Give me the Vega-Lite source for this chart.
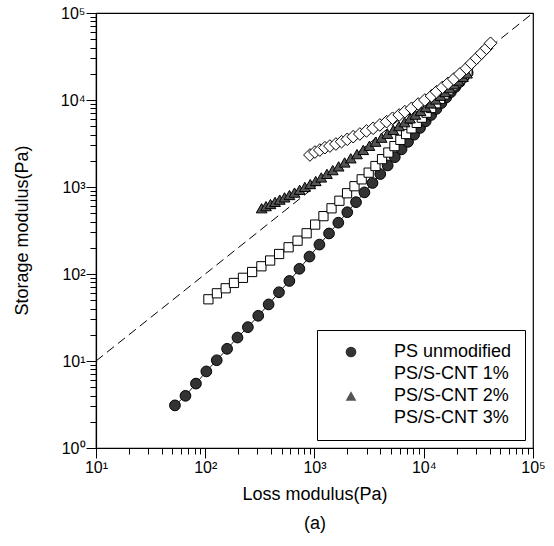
{
  "$schema": "https://vega.github.io/schema/vega-lite/v6.json",
  "width": 437,
  "height": 435,
  "autosize": "none",
  "padding": {"left": 96, "top": 13, "right": 21, "bottom": 98},
  "background": "white",
  "config": {
    "view": {"stroke": "black", "strokeWidth": 1.2},
    "axis": {
      "grid": false,
      "domainColor": "black",
      "domainWidth": 1.2,
      "tickColor": "black",
      "tickWidth": 1,
      "labelColor": "black",
      "titleColor": "black",
      "labelFont": "Liberation Sans",
      "titleFont": "Liberation Sans",
      "titleFontWeight": "normal",
      "labelFontSize": 16,
      "titleFontSize": 18,
      "labelOverlap": false,
      "labelFlush": false
    },
    "legend": {
      "labelFont": "Liberation Sans",
      "title": null,
      "orient": "bottom-right",
      "offset": 8,
      "strokeColor": "black",
      "fillColor": "white",
      "padding": 13,
      "labelFontSize": 18,
      "labelColor": "black",
      "labelOffset": 34,
      "symbolOffset": 12,
      "rowPadding": 4,
      "symbolSize": 115,
      "symbolOpacity": 1,
      "symbolStrokeWidth": 1,
      "symbolStrokeColor": "black"
    }
  },
  "datasets": {
    "series": [
      {"s": "PS unmodified", "x": 52.8, "y": 3.09},
      {"s": "PS unmodified", "x": 65.9, "y": 3.98},
      {"s": "PS unmodified", "x": 82.2, "y": 5.5},
      {"s": "PS unmodified", "x": 102.3, "y": 7.59},
      {"s": "PS unmodified", "x": 127.4, "y": 10.2},
      {"s": "PS unmodified", "x": 158.5, "y": 13.8},
      {"s": "PS unmodified", "x": 197.2, "y": 18.6},
      {"s": "PS unmodified", "x": 245.5, "y": 24.5},
      {"s": "PS unmodified", "x": 305.5, "y": 33.1},
      {"s": "PS unmodified", "x": 380.2, "y": 44.7},
      {"s": "PS unmodified", "x": 473.2, "y": 61.7},
      {"s": "PS unmodified", "x": 588.8, "y": 83.2},
      {"s": "PS unmodified", "x": 727.8, "y": 114.8},
      {"s": "PS unmodified", "x": 899.5, "y": 158.5},
      {"s": "PS unmodified", "x": 1109, "y": 217.8},
      {"s": "PS unmodified", "x": 1358, "y": 292.4},
      {"s": "PS unmodified", "x": 1652, "y": 389},
      {"s": "PS unmodified", "x": 1995, "y": 512.9},
      {"s": "PS unmodified", "x": 2399, "y": 669.9},
      {"s": "PS unmodified", "x": 2864, "y": 867},
      {"s": "PS unmodified", "x": 3396, "y": 1112},
      {"s": "PS unmodified", "x": 3999, "y": 1409},
      {"s": "PS unmodified", "x": 4677, "y": 1770},
      {"s": "PS unmodified", "x": 5433, "y": 2203},
      {"s": "PS unmodified", "x": 6266, "y": 2710},
      {"s": "PS unmodified", "x": 7178, "y": 3304},
      {"s": "PS unmodified", "x": 8166, "y": 3990},
      {"s": "PS unmodified", "x": 9247, "y": 4775},
      {"s": "PS unmodified", "x": 10423, "y": 5689},
      {"s": "PS unmodified", "x": 11695, "y": 6730},
      {"s": "PS unmodified", "x": 13062, "y": 7907},
      {"s": "PS unmodified", "x": 14521, "y": 9226},
      {"s": "PS unmodified", "x": 16069, "y": 10691},
      {"s": "PS unmodified", "x": 17701, "y": 12303},
      {"s": "PS unmodified", "x": 19454, "y": 14125},
      {"s": "PS unmodified", "x": 21281, "y": 16069},
      {"s": "PS unmodified", "x": 23227, "y": 18281},
      {"s": "PS unmodified", "x": 25235, "y": 20606},
      {"s": "PS/S-CNT 1%", "x": 106.9, "y": 51.2},
      {"s": "PS/S-CNT 1%", "x": 127.9, "y": 60},
      {"s": "PS/S-CNT 1%", "x": 153.8, "y": 68.5},
      {"s": "PS/S-CNT 1%", "x": 183.2, "y": 78.9},
      {"s": "PS/S-CNT 1%", "x": 221.3, "y": 90.4},
      {"s": "PS/S-CNT 1%", "x": 268.5, "y": 105.4},
      {"s": "PS/S-CNT 1%", "x": 326.6, "y": 122.7},
      {"s": "PS/S-CNT 1%", "x": 392.6, "y": 142.9},
      {"s": "PS/S-CNT 1%", "x": 474.2, "y": 169.8},
      {"s": "PS/S-CNT 1%", "x": 579.4, "y": 202.8},
      {"s": "PS/S-CNT 1%", "x": 699.8, "y": 241.5},
      {"s": "PS/S-CNT 1%", "x": 847.2, "y": 293.8},
      {"s": "PS/S-CNT 1%", "x": 1014, "y": 369.8},
      {"s": "PS/S-CNT 1%", "x": 1208, "y": 462.4},
      {"s": "PS/S-CNT 1%", "x": 1432, "y": 568.9},
      {"s": "PS/S-CNT 1%", "x": 1690, "y": 695},
      {"s": "PS/S-CNT 1%", "x": 1986, "y": 847.2},
      {"s": "PS/S-CNT 1%", "x": 2323, "y": 1021},
      {"s": "PS/S-CNT 1%", "x": 2704, "y": 1225},
      {"s": "PS/S-CNT 1%", "x": 3133, "y": 1462},
      {"s": "PS/S-CNT 1%", "x": 3614, "y": 1742},
      {"s": "PS/S-CNT 1%", "x": 4150, "y": 2089},
      {"s": "PS/S-CNT 1%", "x": 4742, "y": 2489},
      {"s": "PS/S-CNT 1%", "x": 5395, "y": 2951},
      {"s": "PS/S-CNT 1%", "x": 6109, "y": 3483},
      {"s": "PS/S-CNT 1%", "x": 6887, "y": 4064},
      {"s": "PS/S-CNT 1%", "x": 7727, "y": 4721},
      {"s": "PS/S-CNT 1%", "x": 8630, "y": 5458},
      {"s": "PS/S-CNT 1%", "x": 9594, "y": 6266},
      {"s": "PS/S-CNT 1%", "x": 10617, "y": 7145},
      {"s": "PS/S-CNT 1%", "x": 11695, "y": 8091},
      {"s": "PS/S-CNT 1%", "x": 12853, "y": 9162},
      {"s": "PS/S-CNT 1%", "x": 14093, "y": 10328},
      {"s": "PS/S-CNT 1%", "x": 15417, "y": 11588},
      {"s": "PS/S-CNT 1%", "x": 16827, "y": 12942},
      {"s": "PS/S-CNT 1%", "x": 18323, "y": 14421},
      {"s": "PS/S-CNT 1%", "x": 19907, "y": 15996},
      {"s": "PS/S-CNT 1%", "x": 21577, "y": 17660},
      {"s": "PS/S-CNT 1%", "x": 23335, "y": 19498},
      {"s": "PS/S-CNT 1%", "x": 25119, "y": 21380},
      {"s": "PS/S-CNT 2%", "x": 328.1, "y": 570.2},
      {"s": "PS/S-CNT 2%", "x": 359.7, "y": 602.6},
      {"s": "PS/S-CNT 2%", "x": 395.4, "y": 636.8},
      {"s": "PS/S-CNT 2%", "x": 435.5, "y": 674.5},
      {"s": "PS/S-CNT 2%", "x": 480.8, "y": 716.1},
      {"s": "PS/S-CNT 2%", "x": 532.1, "y": 760.3},
      {"s": "PS/S-CNT 2%", "x": 590.2, "y": 809.1},
      {"s": "PS/S-CNT 2%", "x": 656.1, "y": 863},
      {"s": "PS/S-CNT 2%", "x": 731.1, "y": 928.9},
      {"s": "PS/S-CNT 2%", "x": 816.6, "y": 1002},
      {"s": "PS/S-CNT 2%", "x": 914.1, "y": 1081},
      {"s": "PS/S-CNT 2%", "x": 1026, "y": 1172},
      {"s": "PS/S-CNT 2%", "x": 1153, "y": 1288},
      {"s": "PS/S-CNT 2%", "x": 1300, "y": 1416},
      {"s": "PS/S-CNT 2%", "x": 1469, "y": 1563},
      {"s": "PS/S-CNT 2%", "x": 1663, "y": 1726},
      {"s": "PS/S-CNT 2%", "x": 1888, "y": 1914},
      {"s": "PS/S-CNT 2%", "x": 2148, "y": 2138},
      {"s": "PS/S-CNT 2%", "x": 2449, "y": 2388},
      {"s": "PS/S-CNT 2%", "x": 2793, "y": 2667},
      {"s": "PS/S-CNT 2%", "x": 3184, "y": 2979},
      {"s": "PS/S-CNT 2%", "x": 3622, "y": 3319},
      {"s": "PS/S-CNT 2%", "x": 4111, "y": 3690},
      {"s": "PS/S-CNT 2%", "x": 4656, "y": 4093},
      {"s": "PS/S-CNT 2%", "x": 5260, "y": 4529},
      {"s": "PS/S-CNT 2%", "x": 5929, "y": 5012},
      {"s": "PS/S-CNT 2%", "x": 6668, "y": 5559},
      {"s": "PS/S-CNT 2%", "x": 7482, "y": 6152},
      {"s": "PS/S-CNT 2%", "x": 8375, "y": 6792},
      {"s": "PS/S-CNT 2%", "x": 9354, "y": 7482},
      {"s": "PS/S-CNT 2%", "x": 10423, "y": 8279},
      {"s": "PS/S-CNT 2%", "x": 11588, "y": 9162},
      {"s": "PS/S-CNT 2%", "x": 12853, "y": 10139},
      {"s": "PS/S-CNT 2%", "x": 14223, "y": 11194},
      {"s": "PS/S-CNT 2%", "x": 15704, "y": 12331},
      {"s": "PS/S-CNT 2%", "x": 17298, "y": 13677},
      {"s": "PS/S-CNT 2%", "x": 19011, "y": 15136},
      {"s": "PS/S-CNT 2%", "x": 20845, "y": 16711},
      {"s": "PS/S-CNT 2%", "x": 22803, "y": 18408},
      {"s": "PS/S-CNT 2%", "x": 24889, "y": 20230},
      {"s": "PS/S-CNT 3%", "x": 907.8, "y": 2333},
      {"s": "PS/S-CNT 3%", "x": 1009, "y": 2523},
      {"s": "PS/S-CNT 3%", "x": 1119, "y": 2661},
      {"s": "PS/S-CNT 3%", "x": 1245, "y": 2831},
      {"s": "PS/S-CNT 3%", "x": 1384, "y": 2958},
      {"s": "PS/S-CNT 3%", "x": 1570, "y": 3119},
      {"s": "PS/S-CNT 3%", "x": 1770, "y": 3319},
      {"s": "PS/S-CNT 3%", "x": 1995, "y": 3532},
      {"s": "PS/S-CNT 3%", "x": 2259, "y": 3784},
      {"s": "PS/S-CNT 3%", "x": 2600, "y": 4064},
      {"s": "PS/S-CNT 3%", "x": 2992, "y": 4406},
      {"s": "PS/S-CNT 3%", "x": 3443, "y": 4732},
      {"s": "PS/S-CNT 3%", "x": 3963, "y": 5164},
      {"s": "PS/S-CNT 3%", "x": 4571, "y": 5636},
      {"s": "PS/S-CNT 3%", "x": 5176, "y": 6166},
      {"s": "PS/S-CNT 3%", "x": 5957, "y": 6730},
      {"s": "PS/S-CNT 3%", "x": 6714, "y": 7345},
      {"s": "PS/S-CNT 3%", "x": 7727, "y": 8035},
      {"s": "PS/S-CNT 3%", "x": 8892, "y": 8995},
      {"s": "PS/S-CNT 3%", "x": 10233, "y": 10000},
      {"s": "PS/S-CNT 3%", "x": 11776, "y": 11117},
      {"s": "PS/S-CNT 3%", "x": 13092, "y": 12445},
      {"s": "PS/S-CNT 3%", "x": 14859, "y": 13996},
      {"s": "PS/S-CNT 3%", "x": 16711, "y": 15560},
      {"s": "PS/S-CNT 3%", "x": 18836, "y": 17418},
      {"s": "PS/S-CNT 3%", "x": 21380, "y": 19907},
      {"s": "PS/S-CNT 3%", "x": 24604, "y": 23121},
      {"s": "PS/S-CNT 3%", "x": 27353, "y": 26424},
      {"s": "PS/S-CNT 3%", "x": 30409, "y": 30130},
      {"s": "PS/S-CNT 3%", "x": 33806, "y": 34435},
      {"s": "PS/S-CNT 3%", "x": 37497, "y": 39264},
      {"s": "PS/S-CNT 3%", "x": 40832, "y": 44875}
    ],
    "diag": [{"x": 10, "y": 10}, {"x": 100000, "y": 100000}]
  },
  "encoding": {
    "x": {
      "field": "x", "type": "quantitative",
      "scale": {"type": "log", "domain": [10, 100000], "nice": false},
      "axis": {
        "values": [10,20,30,40,50,60,70,80,90,100,200,300,400,500,600,700,800,900,1000,2000,3000,4000,5000,6000,7000,8000,9000,10000,20000,30000,40000,50000,60000,70000,80000,90000,100000],
        "labelExpr": "abs(log(datum.value)/LN10 - round(log(datum.value)/LN10)) < 0.001 ? '10' + ['⁰','¹','²','³','⁴','⁵'][round(log(datum.value)/LN10)] : ''",
        "tickSize": {"condition": {"test": "abs(log(datum.value)/LN10 - round(log(datum.value)/LN10)) < 0.001", "value": 10}, "value": 6},
        "labelPadding": 1,
        "title": ["Loss modulus(Pa)", "(a)"],
        "titleLineHeight": 29,
        "titlePadding": 10
      }
    },
    "y": {
      "field": "y", "type": "quantitative",
      "scale": {"type": "log", "domain": [1, 100000], "nice": false},
      "axis": {
        "values": [1,2,3,4,5,6,7,8,9,10,20,30,40,50,60,70,80,90,100,200,300,400,500,600,700,800,900,1000,2000,3000,4000,5000,6000,7000,8000,9000,10000,20000,30000,40000,50000,60000,70000,80000,90000,100000],
        "labelExpr": "abs(log(datum.value)/LN10 - round(log(datum.value)/LN10)) < 0.001 ? '10' + ['⁰','¹','²','³','⁴','⁵'][round(log(datum.value)/LN10)] : ''",
        "tickSize": {"condition": {"test": "abs(log(datum.value)/LN10 - round(log(datum.value)/LN10)) < 0.001", "value": 10}, "value": 6},
        "labelPadding": 1,
        "title": "Storage modulus(Pa)",
        "titleAngle": -90,
        "titleAlign": "center",
        "titleBaseline": "middle",
        "titleX": -74,
        "titleY": 217
      }
    }
  },
  "layer": [
    {
      "data": {"name": "diag"},
      "mark": {"type": "line", "color": "black", "strokeWidth": 1, "strokeDash": [9, 5]},
      "encoding": {}
    },
    {
      "data": {"name": "series"},
      "mark": {"type": "line", "color": "black", "strokeWidth": 0.9},
      "encoding": {"detail": {"field": "s"}}
    },
    {
      "data": {"name": "series"},
      "mark": {"type": "point", "filled": true, "stroke": "black", "strokeWidth": 1, "opacity": 1, "size": 115},
      "encoding": {
        "shape": {
          "field": "s", "type": "nominal",
          "scale": {"domain": ["PS unmodified", "PS/S-CNT 1%", "PS/S-CNT 2%", "PS/S-CNT 3%"], "range": ["circle", "M-0.86,-0.86H0.86V0.86H-0.86Z", "triangle-up", "M-1.18,0L0,-1.18L1.18,0L0,1.18Z"]}
        },
        "fill": {
          "field": "s", "type": "nominal",
          "scale": {"domain": ["PS unmodified", "PS/S-CNT 1%", "PS/S-CNT 2%", "PS/S-CNT 3%"], "range": ["#333333", "white", "#555555", "white"]}
        }
      }
    }
  ]
}
